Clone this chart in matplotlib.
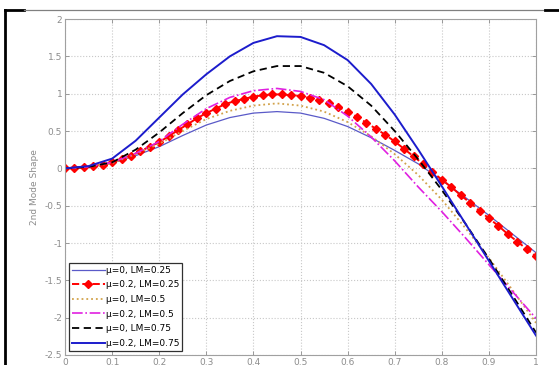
import numpy as np
import matplotlib.pyplot as plt
from matplotlib.lines import Line2D

# Posiciones a lo largo de la viga (x/L)
x = [0.00, 0.05, 0.10, 0.15, 0.20, 0.25, 0.30, 0.35, 0.40, 0.45, 0.50,
     0.55, 0.60, 0.65, 0.70, 0.75, 0.80, 0.85, 0.90, 0.95, 1.00]

# Curva con marcadores (mas puntos)
x_fine = [round(0.02 * i, 2) for i in range(51)]

mu0_lm025 = [0.00, 0.02, 0.07, 0.17, 0.29, 0.44, 0.58, 0.68, 0.74, 0.76, 0.74,
             0.67, 0.56, 0.41, 0.24, 0.06, -0.16, -0.39, -0.63, -0.88, -1.13]
mu02_lm025 = [0.00, 0.003, 0.012, 0.03, 0.05, 0.08, 0.12, 0.17, 0.23, 0.29,
              0.35, 0.43, 0.51, 0.59, 0.67, 0.74, 0.80, 0.86, 0.90, 0.93,
              0.96, 0.98, 0.99, 0.99, 0.98, 0.97, 0.94, 0.91, 0.87, 0.82,
              0.76, 0.69, 0.61, 0.53, 0.45, 0.36, 0.26, 0.16, 0.06, -0.05,
              -0.15, -0.25, -0.36, -0.46, -0.57, -0.67, -0.77, -0.88, -0.98,
              -1.08, -1.18]
mu0_lm05 = [0.00, 0.02, 0.07, 0.19, 0.33, 0.50, 0.66, 0.77, 0.84, 0.87, 0.84,
            0.76, 0.62, 0.43, 0.19, -0.09, -0.42, -0.80, -1.20, -1.63, -2.07]
mu02_lm05 = [0.00, 0.02, 0.08, 0.20, 0.36, 0.59, 0.80, 0.95, 1.04, 1.07, 1.03,
             0.92, 0.70, 0.42, 0.10, -0.25, -0.58, -0.93, -1.29, -1.65, -2.01]
mu0_lm075 = [0.00, 0.02, 0.08, 0.25, 0.48, 0.74, 0.98, 1.17, 1.30, 1.37, 1.37,
             1.28, 1.10, 0.84, 0.50, 0.12, -0.29, -0.74, -1.21, -1.70, -2.20]
mu02_lm075 = [0.00, 0.03, 0.13, 0.37, 0.68, 0.99, 1.26, 1.50, 1.68, 1.77, 1.76,
              1.65, 1.45, 1.13, 0.72, 0.25, -0.24, -0.74, -1.24, -1.74, -2.24]

labels = ['\u03bc=0, LM=0.25', '\u03bc=0.2, LM=0.25', '\u03bc=0, LM=0.5',
          '\u03bc=0.2, LM=0.5', '\u03bc=0, LM=0.75', '\u03bc=0.2, LM=0.75']

xticks = [0, 0.1, 0.2, 0.3, 0.4, 0.5, 0.6, 0.7, 0.8, 0.9, 1]
xticklabels = ['0', '0.1', '0.2', '0.3', '0.4', '0.5', '0.6', '0.7', '0.8', '0.9', '1']
yticks = [-2.5, -2, -1.5, -1, -0.5, 0, 0.5, 1, 1.5, 2]
yticklabels = ['-2.5', '-2', '-1.5', '-1', '-0.5', '0', '0.5', '1', '1.5', '2']

gris = '#8c8c8c'

fig = plt.figure(figsize=(5.59, 3.65), dpi=100)
ax = fig.add_axes([0.1163, 0.0274, 0.8426, 0.9205])

ax.plot(x, mu0_lm025, '-', color='#5a5ac8', lw=0.9, label=labels[0])
ax.plot(x_fine, mu02_lm025, '--', color='#ff0000', lw=1.4, marker='D',
        ms=3.8, mec='#ff0000', mfc='#ff0000', label=labels[1])
ax.plot(x, mu0_lm05, ':', color='#d2a24a', lw=1.3, label=labels[2])
ax.plot(x, mu02_lm05, '-.', color='#e020e0', lw=1.2, label=labels[3])
ax.plot(x, mu0_lm075, '--', color='black', lw=1.3, dashes=(4, 2.5), label=labels[4])
ax.plot(x, mu02_lm075, '-', color='#1c1ccc', lw=1.4, label=labels[5])

ax.set_xlim(0, 1)
ax.set_ylim(-2.5, 2)
ax.set_xticks(xticks)
ax.set_xticklabels(xticklabels)
ax.set_yticks(yticks)
ax.set_yticklabels(yticklabels)
ax.tick_params(direction='in', length=3, width=0.6, colors=gris,
               labelsize=6.5, top=True, right=True, pad=2)
ax.grid(True, linestyle=':', color='#c8c8c8', lw=0.8)
for s in ax.spines.values():
    s.set_color('#a0a0a0')
    s.set_linewidth(0.8)
ax.set_ylabel('2nd Mode Shape', color=gris, fontsize=6.5, labelpad=4)

leg = ax.legend(loc='lower left', fontsize=6.5, handlelength=3.6,
                handletextpad=0.1, labelspacing=0.62, borderpad=0.35,
                borderaxespad=0.45, fancybox=False, framealpha=1)
leg.get_frame().set_edgecolor('#303030')
leg.get_frame().set_linewidth(0.9)

# Marco de la captura
fig.add_artist(Line2D([5 / 559, 5 / 559], [0, 355 / 365], color='black', lw=2,
                      transform=fig.transFigure))
fig.add_artist(Line2D([5 / 559, 24 / 559], [355 / 365, 355 / 365], color='black',
                      lw=2, transform=fig.transFigure))
fig.add_artist(Line2D([24 / 559, 545 / 559], [355 / 365, 355 / 365], color='#808080',
                      lw=0.9, transform=fig.transFigure))
fig.add_artist(Line2D([545 / 559, 1], [355 / 365, 355 / 365], color='black',
                      lw=2, transform=fig.transFigure))

fig.savefig('out.png', dpi=100)
